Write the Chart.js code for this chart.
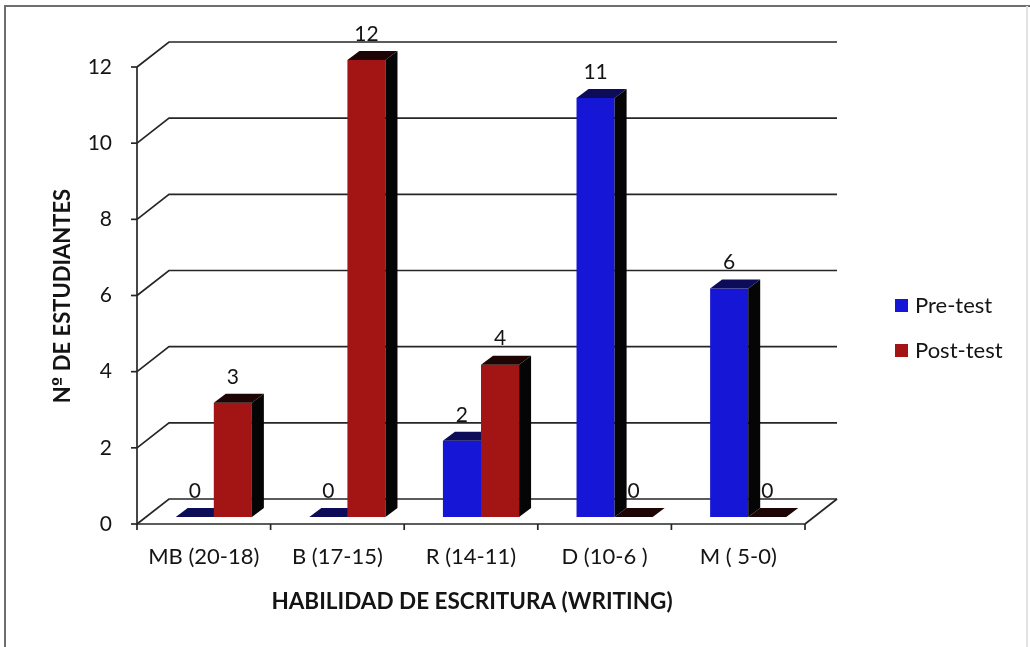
<!DOCTYPE html>
<html>
<head>
<meta charset="utf-8">
<script src="https://cdn.jsdelivr.net/npm/chart.js@4/dist/chart.umd.min.js"></script>
<style>
  html, body { margin: 0; padding: 0; background: #ffffff; }
  #wrap { width: 1030px; height: 647px; position: relative; }
</style>
</head>
<body>
<div id="wrap"><canvas id="c" width="1030" height="647"></canvas></div>
<script>
// Writing-skill bands and number of students in each, before and after
const categories = ['MB (20-18)', 'B (17-15)', 'R (14-11)', 'D (10-6 )', 'M ( 5-0)'];
const preTest = [0, 0, 2, 11, 6];
const postTest = [3, 12, 4, 0, 0];
const seriesNames = ['Pre-test', 'Post-test'];
const yTicks = [0, 2, 4, 6, 8, 10, 12];
const xTitle = 'HABILIDAD DE ESCRITURA (WRITING)';
const yTitleParts = ['N', 'º', ' DE ESTUDIANTES'];

// 3D look: offset of the back wall, of the bar fronts, and the bar depth
const WALL = { dx: 32, dy: -25 };
const BAR_SHIFT = { dx: 10, dy: -7 };
const BAR_DEPTH = { dx: 12, dy: -9 };

const FRONT = ['#1616d6', '#a31414'];
const TOP = ['#0c0c58', '#1e0505'];
const SIDE = '#050505';
const LINE = '#262626';
const TEXT = '#141414';
const FONT = 'Lato, "Open Sans", sans-serif';

function poly(ctx, pts, fill) {
  ctx.beginPath();
  ctx.moveTo(pts[0][0], pts[0][1]);
  for (let i = 1; i < pts.length; i++) ctx.lineTo(pts[i][0], pts[i][1]);
  ctx.closePath();
  ctx.fillStyle = fill;
  ctx.fill();
}

function seg(ctx, x0, y0, x1, y1) {
  ctx.beginPath();
  ctx.moveTo(x0, y0);
  ctx.lineTo(x1, y1);
  ctx.stroke();
}

const frame3d = {
  id: 'frame3d',
  beforeDraw(chart) {
    const ctx = chart.ctx;
    ctx.save();
    ctx.fillStyle = '#ffffff';
    ctx.fillRect(0, 0, chart.width, chart.height);
    // page frame
    ctx.strokeStyle = '#6e6e6e';
    ctx.lineWidth = 2;
    ctx.beginPath();
    ctx.moveTo(5, 647);
    ctx.lineTo(5, 6);
    ctx.lineTo(1030, 6);
    ctx.stroke();
    ctx.strokeStyle = '#e2e2e2';
    seg(ctx, 1027, 6, 1027, 647);
    ctx.restore();
  },
  beforeDatasetsDraw(chart) {
    const ctx = chart.ctx;
    const { left, right, bottom } = chart.chartArea;
    const ys = chart.scales.y;
    const xs = chart.scales.x;
    ctx.save();
    ctx.strokeStyle = LINE;
    ctx.lineWidth = 1.7;
    // side wall + back wall gridlines
    yTicks.forEach(v => {
      const y = ys.getPixelForValue(v);
      ctx.beginPath();
      ctx.moveTo(left, y);
      ctx.lineTo(left + WALL.dx, y + WALL.dy);
      ctx.lineTo(right + WALL.dx, y + WALL.dy);
      ctx.stroke();
      // tick mark on the value axis
      seg(ctx, left - 6, y, left, y);
    });
    // floor right edge
    seg(ctx, right, bottom, right + WALL.dx, bottom + WALL.dy);
    // value axis line
    seg(ctx, left, ys.getPixelForValue(yTicks[yTicks.length - 1]), left, bottom);
    // category axis (front floor edge) with boundary ticks
    seg(ctx, left, bottom, right, bottom);
    const cw = xs.width / categories.length;
    const x0 = xs.getPixelForValue(0) - cw / 2;
    for (let i = 0; i <= categories.length; i++) {
      const x = x0 + i * cw;
      seg(ctx, x, bottom, x, bottom + 6);
    }
    ctx.restore();
  },
  // bars are painted below, category by category, so nearer faces overlap correctly
  beforeDatasetDraw() {
    return false;
  },
  afterDatasetsDraw(chart) {
    const ctx = chart.ctx;
    const metas = chart.data.datasets.map((_, di) => chart.getDatasetMeta(di));
    ctx.save();
    ctx.translate(BAR_SHIFT.dx, BAR_SHIFT.dy);
    categories.forEach((_, i) => {
      metas.forEach((meta, di) => {
        const el = meta.data[i];
        el.draw(ctx);
        const p = el.getProps(['x', 'y', 'base', 'width'], true);
        const xl = p.x - p.width / 2;
        const xr = p.x + p.width / 2;
        const top = Math.min(p.y, p.base);
        const base = Math.max(p.y, p.base);
        if (base - top > 0.5) {
          poly(ctx, [[xr, top], [xr + BAR_DEPTH.dx, top + BAR_DEPTH.dy],
                     [xr + BAR_DEPTH.dx, base + BAR_DEPTH.dy], [xr, base]], SIDE);
        }
        poly(ctx, [[xl, top], [xr, top], [xr + BAR_DEPTH.dx, top + BAR_DEPTH.dy],
                   [xl + BAR_DEPTH.dx, top + BAR_DEPTH.dy]], TOP[di]);
      });
    });
    ctx.restore();

    // value labels above each bar
    ctx.save();
    ctx.fillStyle = TEXT;
    ctx.font = '21px ' + FONT;
    ctx.textAlign = 'center';
    ctx.textBaseline = 'middle';
    metas.forEach((meta, di) => {
      meta.data.forEach((el, i) => {
        const p = el.getProps(['x', 'y'], true);
        ctx.fillText(String(chart.data.datasets[di].data[i]), p.x + BAR_SHIFT.dx, p.y + BAR_SHIFT.dy - 26);
      });
    });
    ctx.restore();
  },
  afterDraw(chart) {
    const ctx = chart.ctx;
    const { left, bottom } = chart.chartArea;
    const ys = chart.scales.y;
    const xs = chart.scales.x;
    ctx.save();
    ctx.fillStyle = TEXT;
    // value tick labels
    ctx.font = '21px ' + FONT;
    ctx.textAlign = 'right';
    ctx.textBaseline = 'middle';
    yTicks.forEach(v => ctx.fillText(String(v), left - 25, ys.getPixelForValue(v)));
    // category labels
    ctx.font = '22px ' + FONT;
    ctx.textAlign = 'center';
    categories.forEach((c, i) => ctx.fillText(c, xs.getPixelForValue(i), bottom + 33));
    // category axis title
    ctx.font = 'bold 22.5px ' + FONT;
    ctx.fillText(xTitle, 472, 602);
    // value axis title (ordinal sign set in a face that underlines it)
    ctx.save();
    ctx.translate(63, 296);
    ctx.rotate(-Math.PI / 2);
    ctx.textAlign = 'left';
    const fonts = ['bold 22px ' + FONT, 'bold 17px "DejaVu Sans", sans-serif', 'bold 22px ' + FONT];
    let total = 0;
    const widths = yTitleParts.map((t, k) => {
      ctx.font = fonts[k];
      const w = ctx.measureText(t).width;
      total += w;
      return w;
    });
    let cx = -total / 2;
    yTitleParts.forEach((t, k) => {
      ctx.font = fonts[k];
      ctx.fillText(t, cx, k === 1 ? -2 : 0);
      cx += widths[k];
    });
    ctx.restore();
    // legend
    ctx.font = '22px ' + FONT;
    ctx.textAlign = 'left';
    const rows = [305, 350];
    seriesNames.forEach((name, i) => {
      ctx.fillStyle = FRONT[i];
      ctx.fillRect(895, rows[i] - 6, 13, 13);
      ctx.fillStyle = TEXT;
      ctx.fillText(name, 915, rows[i] + 1);
    });
    ctx.restore();
  }
};

new Chart(document.getElementById('c'), {
  type: 'bar',
  data: {
    labels: categories,
    datasets: [
      { label: seriesNames[0], data: preTest, backgroundColor: FRONT[0], borderWidth: 0 },
      { label: seriesNames[1], data: postTest, backgroundColor: FRONT[1], borderWidth: 0 }
    ]
  },
  options: {
    responsive: false,
    animation: false,
    devicePixelRatio: 1,
    layout: { padding: { left: 137, top: 67, right: 225, bottom: 123 } },
    datasets: { bar: { categoryPercentage: 0.57, barPercentage: 1.0 } },
    scales: {
      x: { type: 'category', display: false, offset: true },
      y: { display: false, min: 0, max: 12 }
    },
    plugins: { legend: { display: false }, tooltip: { enabled: false } },
    events: []
  },
  plugins: [frame3d]
});
</script>
</body>
</html>
